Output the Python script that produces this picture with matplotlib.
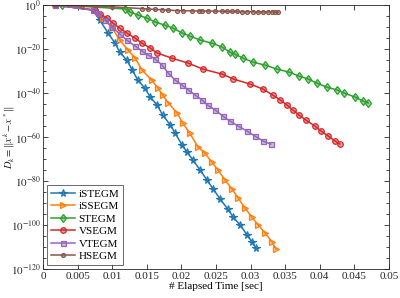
import numpy as np
import matplotlib
matplotlib.use("Agg")
import matplotlib.pyplot as plt
from matplotlib.colors import to_rgba
from matplotlib.ticker import FixedLocator, NullFormatter

plt.rcParams['font.family'] = ['Liberation Serif', 'DejaVu Serif']
plt.rcParams['mathtext.fontset'] = 'stix'

# elapsed time [sec] and log10 of D_k
t_istegm = [0.0017, 0.0072, 0.0082, 0.0094, 0.0104, 0.0111, 0.0121, 0.0129, 0.0137, 0.0147,
            0.0155, 0.0165, 0.0173, 0.0184, 0.0191, 0.0201, 0.0208, 0.0217, 0.0227, 0.0237,
            0.0246, 0.0256, 0.0267, 0.0275, 0.0285, 0.0295, 0.0302, 0.0308]
e_istegm = [0, -2.3, -6.8, -12.7, -17.3, -21.4, -25.0, -29.5, -34.1, -37.7,
            -41.8, -45.5, -50.0, -54.5, -58.2, -63.6, -66.8, -70.5, -75.0, -79.5,
            -83.6, -88.2, -92.7, -96.4, -100.0, -104.5, -107.7, -110.5]

t_issegm = [0.0020, 0.0075, 0.0087, 0.0100, 0.0111, 0.0123, 0.0133, 0.0143, 0.0157, 0.0166,
            0.0173, 0.0181, 0.0194, 0.0202, 0.0212, 0.0224, 0.0234, 0.0244, 0.0253, 0.0263,
            0.0273, 0.0282, 0.0292, 0.0302, 0.0311, 0.0321, 0.0331, 0.0337]
e_issegm = [0, -2.3, -5.9, -10.5, -15.9, -20.5, -24.1, -29.5, -34.1, -37.7,
            -40.9, -44.5, -49.1, -53.6, -58.2, -64.5, -67.3, -71.4, -75.0, -79.5,
            -83.6, -87.7, -92.3, -96.4, -100.0, -103.6, -107.7, -110.9]

t_stegm = [0.0028, 0.0119, 0.0126, 0.0137, 0.0150, 0.0162, 0.0176, 0.0188, 0.0201, 0.0212,
           0.0227, 0.0244, 0.0259, 0.0270, 0.0277, 0.0289, 0.0303, 0.0321, 0.0338, 0.0356,
           0.0370, 0.0383, 0.0396, 0.0410, 0.0425, 0.0435, 0.0451, 0.0462, 0.0470]
e_stegm = [0, -1.8, -3.2, -4.5, -5.9, -7.7, -9.1, -10.5, -12.7, -14.1,
           -15.9, -17.3, -19.1, -21.4, -22.3, -24.1, -25.9, -27.3, -29.1, -30.5,
           -32.3, -33.6, -35.5, -37.3, -38.6, -40.0, -41.8, -43.6, -44.5]

t_vsegm = [0.0017, 0.0075, 0.0082, 0.0093, 0.0101, 0.0111, 0.0121, 0.0133, 0.0143, 0.0155,
           0.0165, 0.0186, 0.0210, 0.0231, 0.0259, 0.0275, 0.0299, 0.0318, 0.0332, 0.0343,
           0.0353, 0.0361, 0.0370, 0.0380, 0.0393, 0.0402, 0.0412, 0.0422, 0.0429]
e_vsegm = [0, -2.3, -4.1, -5.9, -8.2, -10.5, -12.7, -15.0, -17.3, -19.5,
           -21.8, -24.1, -26.4, -29.1, -31.4, -33.6, -35.9, -38.2, -40.9, -43.2,
           -45.5, -47.7, -50.0, -52.3, -55.0, -57.3, -59.5, -61.8, -63.2]

t_vtegm = [0.0017, 0.0072, 0.0079, 0.0090, 0.0100, 0.0111, 0.0121, 0.0133, 0.0143, 0.0152,
           0.0162, 0.0172, 0.0181, 0.0191, 0.0201, 0.0210, 0.0220, 0.0230, 0.0238, 0.0249,
           0.0260, 0.0270, 0.0282, 0.0295, 0.0306, 0.0318, 0.0329]
e_vtegm = [0, -2.3, -3.6, -6.8, -10.0, -13.2, -15.9, -18.6, -20.9, -22.7,
           -24.5, -27.3, -30.9, -34.1, -36.4, -38.6, -40.9, -43.2, -45.5, -47.7,
           -50.5, -52.7, -55.0, -57.3, -59.5, -61.8, -63.2]

t_hsegm = [0.0017, 0.0056, 0.0100, 0.0143, 0.0152, 0.0162, 0.0172, 0.0181, 0.0194, 0.0202,
           0.0215, 0.0225, 0.0230, 0.0238, 0.0249, 0.0259, 0.0266, 0.0273, 0.0280, 0.0288,
           0.0295, 0.0303, 0.0311, 0.0318, 0.0325, 0.0331, 0.0335, 0.0340]
e_hsegm = [0, -0.5, -0.8, -1.6, -1.8, -2.0, -2.1, -2.3, -2.5, -2.6,
           -2.6, -2.7, -2.7, -2.7, -2.8, -2.8, -2.9, -2.9, -2.9, -3.0,
           -3.0, -3.0, -3.1, -3.1, -3.1, -3.1, -3.2, -3.2]

xticks = [0, 0.005, 0.01, 0.015, 0.02, 0.025, 0.03, 0.035, 0.04, 0.045, 0.05]
xtick_labels = ['0', '0.005', '0.01', '0.015', '0.02', '0.025', '0.03', '0.035', '0.04', '0.045', '0.05']
ytick_exps = [0, -20, -40, -60, -80, -100, -120]

series = [
    ('iSTEGM', t_istegm, e_istegm, '#1f77b4', '*', 5.5),
    ('iSSEGM', t_issegm, e_issegm, '#ff7f0e', '>', 4),
    ('STEGM', t_stegm, e_stegm, '#2ca02c', 'd', 4.5),
    ('VSEGM', t_vsegm, e_vsegm, '#d62728', 'o', 4),
    ('VTEGM', t_vtegm, e_vtegm, '#9467bd', 's', 3.6),
    ('HSEGM', t_hsegm, e_hsegm, '#8c564b', 'o', 2.8),
]

fig = plt.figure(figsize=(4.0, 2.98), dpi=100)
ax = fig.add_axes([0.1075, 0.097, 0.865, 0.886])

for name, t, e, c, m, ms in series:
    ax.plot(t, 10.0 ** np.array(e), color=c, lw=1.1, marker=m, ms=ms,
            mec=c, mfc=to_rgba(c, 0.45), mew=0.9, label=name)

ax.set_yscale('log')
ax.set_xlim(0, 0.05)
ax.set_ylim(1e-120, 1e0)
ax.set_xticks(xticks)
ax.set_xticklabels(xtick_labels)
ax.yaxis.set_major_locator(FixedLocator([10.0 ** k for k in ytick_exps]))
ax.set_yticklabels(['$10^{%d}$' % k for k in ytick_exps])
ax.yaxis.set_minor_locator(FixedLocator([10.0 ** k for k in range(0, -121, -5)]))
ax.yaxis.set_minor_formatter(NullFormatter())

ax.tick_params(which='both', direction='in', top=True, right=True,
               labelsize=8, colors='#262626', width=0.6)
ax.tick_params(which='major', length=3.5, pad=2)
ax.tick_params(axis='y', which='major', pad=1.5)
ax.tick_params(which='minor', length=2)
for sp in ax.spines.values():
    sp.set_color('#262626')
    sp.set_linewidth(0.6)

ax.set_xlabel('# Elapsed Time [sec]', fontsize=8, labelpad=1)
# y label placed by hand so it stays inside the narrow left margin
fig.text(0.004, 0.54, r'$D_k = \|x^k - x^*\|$', fontsize=7.5, rotation=90,
         ha='left', va='center', color='#262626')

leg = ax.legend(loc='lower left', fontsize=8, frameon=True, fancybox=False,
                edgecolor='#262626', borderpad=0.3, labelspacing=0.25,
                handlelength=2.2, handletextpad=0.3, borderaxespad=0.4)
leg.get_frame().set_linewidth(0.6)

fig.savefig('out.png', dpi=100)
